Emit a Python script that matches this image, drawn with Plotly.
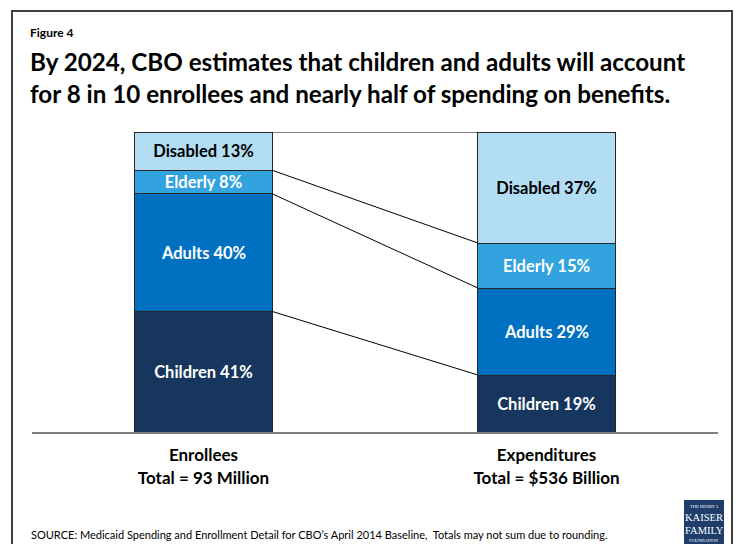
import plotly.graph_objects as go

# Medicaid enrollment and spending shares by eligibility group, 2024 (CBO baseline)
categories = ["Enrollees", "Expenditures"]
totals = ["Total = 93 Million", "Total = $536 Billion"]
groups = ["Children", "Adults", "Elderly", "Disabled"]
children = [41, 19]
adults = [40, 29]
elderly = [8, 15]
disabled = [13, 37]

series = [children, adults, elderly, disabled]
fills = ["#17365D", "#0070C0", "#33A3E0", "#B2DDF3"]
text_colors = ["white", "white", "white", "black"]

W, H = 740, 544
L, R, T, B = 32, 22, 132, 112
BAR_W = 0.4
FONT = "Lato"


def px(x):
    return (x - L) / (W - L - R)


def py(y):
    return (H - B - y) / (H - T - B)


fig = go.Figure()

x_pos = list(range(len(categories)))
for name, vals, fill, tc in zip(groups, series, fills, text_colors):
    fig.add_trace(go.Bar(
        x=x_pos, y=vals, width=BAR_W, name=name,
        marker=dict(color=fill, line=dict(color="#262626", width=1)),
        text=[f"{name} {v}%" for v in vals],
        textposition="inside", insidetextanchor="middle",
        textangle=0, constraintext="none",
        textfont=dict(family=FONT, size=16.5, color=tc, weight="bold"),
        hoverinfo="skip", showlegend=False,
    ))

# connector lines joining the top edge of each group between the two stacks
stack_tot = [sum(s[i] for s in series) for i in x_pos]
running = [0.0, 0.0]
for vals in series:
    running = [running[i] + vals[i] for i in x_pos]
    tops = [running[i] / stack_tot[i] * 100 for i in x_pos]
    fig.add_trace(go.Scatter(
        x=[x_pos[0] + BAR_W / 2, x_pos[1] - BAR_W / 2], y=tops,
        mode="lines", line=dict(color="black", width=1),
        hoverinfo="skip", showlegend=False,
    ))

ticktext = [f"<b>{c}</b><br><b>{t}</b>" for c, t in zip(categories, totals)]

fig.update_layout(
    width=W, height=H,
    margin=dict(l=L, r=R, t=T, b=B, pad=0),
    barmode="stack", barnorm="percent",
    paper_bgcolor="white", plot_bgcolor="white",
    font=dict(family=FONT, color="black"),
    xaxis=dict(
        range=[-0.5, 1.5], tickvals=x_pos, ticktext=ticktext,
        showline=True, linecolor="#7F7F7F", linewidth=2,
        showgrid=False, zeroline=False, ticks="",
        tickfont=dict(family=FONT, size=17, color="black"),
        ticklabelstandoff=7, fixedrange=True,
    ),
    yaxis=dict(range=[0, 100], visible=False, fixedrange=True),
    shapes=[
        # outer frame
        dict(type="rect", xref="paper", yref="paper",
             x0=px(12), x1=px(732), y0=py(560), y1=py(11),
             line=dict(color="#404040", width=2), layer="below"),
        # logo block
        dict(type="rect", xref="paper", yref="paper",
             x0=px(684), x1=px(724), y0=py(548), y1=py(500),
             line=dict(width=0), fillcolor="#1E3D6B"),
    ],
    annotations=[
        dict(text="<b>Figure 4</b>", xref="paper", yref="paper",
             x=px(28), y=py(32), xanchor="left", yanchor="middle",
             showarrow=False, font=dict(family=FONT, size=12)),
        dict(text="<b>By 2024, CBO estimates that children and adults will account</b>",
             xref="paper", yref="paper", x=px(28), y=py(61),
             xanchor="left", yanchor="middle", showarrow=False,
             font=dict(family=FONT, size=24.2)),
        dict(text="<b>for 8 in 10 enrollees and nearly half of spending on benefits.</b>",
             xref="paper", yref="paper", x=px(28), y=py(93),
             xanchor="left", yanchor="middle", showarrow=False,
             font=dict(family=FONT, size=24.2)),
        dict(text="SOURCE: Medicaid Spending and Enrollment Detail for CBO\u2019s April 2014 Baseline,  Totals may not sum due to rounding.",
             xref="paper", yref="paper", x=px(29), y=py(534),
             xanchor="left", yanchor="middle", showarrow=False,
             font=dict(family=FONT, size=11)),
        dict(text="THE HENRY J.", xref="paper", yref="paper",
             x=px(704), y=py(506), xanchor="center", yanchor="middle",
             showarrow=False, font=dict(family="Liberation Serif", size=4.5, color="white")),
        dict(text="KAISER", xref="paper", yref="paper",
             x=px(704), y=py(517), xanchor="center", yanchor="middle",
             showarrow=False, font=dict(family="Liberation Serif", size=10.5, color="white")),
        dict(text="FAMILY", xref="paper", yref="paper",
             x=px(704), y=py(530), xanchor="center", yanchor="middle",
             showarrow=False, font=dict(family="Liberation Serif", size=10.5, color="white")),
        dict(text="FOUNDATION", xref="paper", yref="paper",
             x=px(704), y=py(540), xanchor="center", yanchor="middle",
             showarrow=False, font=dict(family="Liberation Serif", size=4.5, color="white")),
    ],
)

fig.write_html("out.html")
